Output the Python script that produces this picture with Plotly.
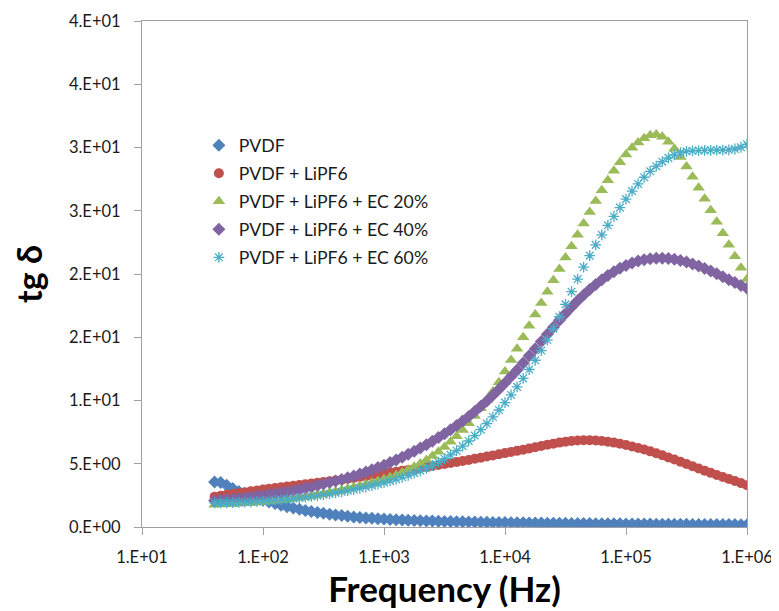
import plotly.graph_objects as go

freq_hz = [39.8, 44.7, 50.1, 56.2, 63.1, 70.8, 79.4, 89.1,
           100, 112, 126, 141, 158, 178, 200, 224, 251, 282, 316, 355, 398, 447, 501, 562, 631, 708, 794, 891,
           1000, 1122, 1259, 1413, 1585, 1778, 1995, 2239, 2512, 2818, 3162, 3548, 3981, 4467, 5012, 5623, 6310, 7079, 7943, 8913,
           10000, 11220, 12590, 14130, 15850, 17780, 19950, 22390, 25120, 28180, 31620, 35480, 39810, 44670, 50120, 56230, 63100, 70790, 79430, 89130,
           100000, 112200, 125900, 141300, 158500, 177800, 199500, 223900, 251200, 281800, 316200, 354800, 398100, 446700, 501200, 562300, 631000, 707900, 794300, 891300,
           1000000]

pvdf = [3.55, 3.52, 3.30, 3.05, 2.80, 2.60, 2.42, 2.26,
        2.12, 1.98, 1.85, 1.72, 1.60, 1.50, 1.40, 1.31, 1.23, 1.15, 1.08, 1.01, 0.95, 0.90, 0.85, 0.80, 0.76, 0.72, 0.69, 0.66,
        0.63, 0.60, 0.58, 0.56, 0.54, 0.52, 0.50, 0.48, 0.47, 0.45, 0.44, 0.43, 0.42, 0.41, 0.40, 0.39, 0.38, 0.37, 0.36, 0.35,
        0.35, 0.34, 0.33, 0.33, 0.32, 0.31, 0.31, 0.30, 0.30, 0.29, 0.29, 0.28, 0.28, 0.27, 0.27, 0.26, 0.26, 0.25, 0.25, 0.25,
        0.24, 0.24, 0.23, 0.23, 0.23, 0.22, 0.22, 0.22, 0.21, 0.21, 0.21, 0.20, 0.20, 0.20, 0.20, 0.19, 0.19, 0.19, 0.19, 0.18,
        0.18]

pvdf_lipf6 = [2.40, 2.47, 2.54, 2.61, 2.68, 2.75, 2.82, 2.89,
              2.96, 3.02, 3.08, 3.14, 3.20, 3.26, 3.32, 3.38, 3.44, 3.50, 3.56, 3.62, 3.68, 3.74, 3.81, 3.88, 3.95, 4.02, 4.09, 4.16,
              4.23, 4.30, 4.37, 4.44, 4.51, 4.58, 4.66, 4.74, 4.82, 4.90, 4.98, 5.06, 5.14, 5.22, 5.30, 5.39, 5.48, 5.57, 5.66, 5.75,
              5.84, 5.93, 6.02, 6.11, 6.20, 6.30, 6.40, 6.50, 6.59, 6.67, 6.74, 6.80, 6.84, 6.86, 6.86, 6.84, 6.80, 6.74, 6.67, 6.58,
              6.48, 6.37, 6.25, 6.12, 5.98, 5.83, 5.67, 5.50, 5.33, 5.16, 4.98, 4.80, 4.62, 4.45, 4.28, 4.11, 3.95, 3.79, 3.63, 3.47,
              3.31]

ec20 = [1.75, 1.77, 1.79, 1.81, 1.84, 1.87, 1.90, 1.94,
        1.98, 2.02, 2.07, 2.12, 2.18, 2.24, 2.31, 2.38, 2.46, 2.54, 2.63, 2.72, 2.82, 2.92, 3.03, 3.14, 3.26, 3.38, 3.51, 3.64,
        3.78, 3.93, 4.10, 4.30, 4.52, 4.76, 5.02, 5.30, 5.61, 5.95, 6.32, 6.73, 7.18, 7.67, 8.20, 8.77, 9.38, 10.03, 10.72, 11.45,
        12.30, 13.20, 14.10, 15.00, 15.90, 16.80, 17.70, 18.60, 19.50, 20.40, 21.30, 22.20, 23.10, 24.00, 24.90, 25.78, 26.62, 27.42, 28.16, 28.84,
        29.45, 29.98, 30.40, 30.74, 30.96, 31.02, 30.85, 30.45, 29.90, 29.25, 28.50, 27.68, 26.82, 25.94, 25.04, 24.13, 23.22, 22.31, 21.40, 20.50,
        19.60]

ec40 = [2.10, 2.14, 2.18, 2.22, 2.27, 2.32, 2.37, 2.43,
        2.49, 2.56, 2.63, 2.71, 2.79, 2.88, 2.97, 3.07, 3.17, 3.28, 3.39, 3.51, 3.63, 3.76, 3.90, 4.04, 4.19, 4.35, 4.52, 4.70,
        4.89, 5.09, 5.30, 5.52, 5.75, 5.99, 6.24, 6.50, 6.78, 7.07, 7.37, 7.69, 8.02, 8.37, 8.74, 9.13, 9.54, 9.97, 10.42, 10.89,
        11.38, 11.89, 12.42, 12.97, 13.53, 14.10, 14.67, 15.24, 15.80, 16.35, 16.88, 17.39, 17.88, 18.34, 18.77, 19.17, 19.54, 19.88, 20.18, 20.45,
        20.68, 20.87, 21.02, 21.13, 21.20, 21.24, 21.25, 21.22, 21.16, 21.07, 20.95, 20.80, 20.63, 20.44, 20.23, 20.01, 19.78, 19.55, 19.32, 19.10,
        18.88]

ec60 = [1.90, 1.91, 1.92, 1.93, 1.95, 1.97, 1.99, 2.02,
        2.05, 2.08, 2.12, 2.16, 2.20, 2.25, 2.30, 2.36, 2.42, 2.48, 2.55, 2.62, 2.70, 2.78, 2.87, 2.96, 3.06, 3.16, 3.27, 3.39,
        3.51, 3.64, 3.78, 3.93, 4.09, 4.26, 4.44, 4.64, 4.87, 5.12, 5.40, 5.70, 6.03, 6.40, 6.80, 7.23, 7.69, 8.18, 8.70, 9.25,
        9.83, 10.44, 11.08, 11.75, 12.45, 13.18, 13.95, 14.78, 15.68, 16.62, 17.60, 18.60, 19.60, 20.55, 21.45, 22.30, 23.10, 23.85, 24.55, 25.25,
        25.92, 26.55, 27.12, 27.65, 28.12, 28.52, 28.88, 29.18, 29.42, 29.60, 29.70, 29.74, 29.76, 29.77, 29.78, 29.79, 29.80, 29.82, 29.88, 30.02,
        30.25]

series_names = ["PVDF", "PVDF + LiPF6", "PVDF + LiPF6 + EC 20%", "PVDF + LiPF6 + EC 40%", "PVDF + LiPF6 + EC 60%"]

x_tickvals = [10, 100, 1000, 10000, 100000, 1000000]
x_ticktext = ["1.E+01", "1.E+02", "1.E+03", "1.E+04", "1.E+05", "1.E+06"]
y_tickvals = [0, 5, 10, 15, 20, 25, 30, 35, 40]
y_ticktext = ["0.E+00", "5.E+00", "1.E+01", "2.E+01", "2.E+01", "3.E+01", "3.E+01", "4.E+01", "4.E+01"]

styles = [
    dict(symbol="diamond", color="#4F81BD", size=10),
    dict(symbol="circle", color="#C0504D", size=10),
    dict(symbol="triangle-up", color="#9BBB59", size=11),
    dict(symbol="diamond", color="#8064A2", size=10),
    dict(symbol="asterisk-open", color="#4BACC6", size=9),
]
values = [pvdf, pvdf_lipf6, ec20, ec40, ec60]

fig = go.Figure()
for i, (name, ys, st) in enumerate(zip(series_names, values, styles)):
    marker = dict(symbol=st["symbol"], color=st["color"], size=st["size"], line=dict(width=0))
    if st["symbol"].endswith("open"):
        marker["line"] = dict(width=1.3, color=st["color"])
    fig.add_trace(go.Scatter(x=freq_hz, y=ys, mode="markers", name=name, marker=marker,
                             legendgroup=f"g{i}"))

font_family = "Lato, 'Open Sans', sans-serif"
# page body adds an 8 px offset, so the figure is 8 px smaller and margins shifted
fig.update_layout(
    width=771, height=603,
    margin=dict(l=134, r=32, t=13, b=84),
    paper_bgcolor="white", plot_bgcolor="white",
    font=dict(family=font_family, size=16.5, color="#1a1a1a"),
    showlegend=True,
    legend=dict(x=0.094, y=0.79, xanchor="left", yanchor="top", bgcolor="rgba(0,0,0,0)",
                font=dict(size=17.7, color="#1a1a1a"), traceorder="grouped", tracegroupgap=2,
                itemwidth=30),
    xaxis=dict(type="log", range=[1, 6], tickvals=x_tickvals, ticktext=x_ticktext,
               showgrid=False, zeroline=False, showline=True, linecolor="#A0A0A0", linewidth=1.2,
               mirror=True, ticks="outside", ticklen=7, tickcolor="#A0A0A0", ticklabelstandoff=8,
               automargin=False,
               title=dict(text="<b>Frequency (Hz)</b>", font=dict(size=35, family=font_family, color="black"),
                          standoff=8)),
    yaxis=dict(range=[0, 40], tickvals=y_tickvals, ticktext=y_ticktext,
               showgrid=False, zeroline=False, showline=True, linecolor="#A0A0A0", linewidth=1.2,
               mirror=True, ticks="outside", ticklen=7, tickcolor="#A0A0A0", ticklabelstandoff=10,
               automargin=False,
               title=dict(text="<b>tg δ</b>", font=dict(size=34, family=font_family, color="black"),
                          standoff=16)),
)
fig.write_html("out.html")
